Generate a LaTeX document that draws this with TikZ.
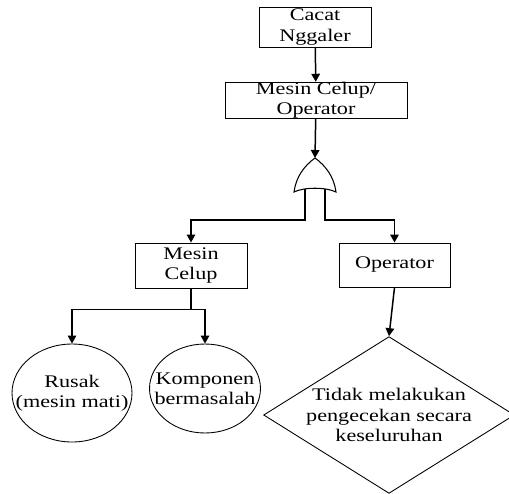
\documentclass[tikz,border=0pt]{standalone}
\usepackage{fontspec}
\setmainfont[FakeStretch=1.25]{Liberation Serif}
\usetikzlibrary{arrows.meta,positioning,calc,shapes.geometric}

\begin{document}
\begin{tikzpicture}[
      x=0.02cm,y=-0.02cm,
      font=\fontsize{10.1pt}{11.6pt}\selectfont,
      box/.style={draw,line width=0.55pt,inner sep=0pt,align=center},
      oval/.style={draw,ellipse,line width=0.5pt,inner xsep=-0.35cm,inner ysep=0pt,align=center},
      arrow/.style={-{Triangle[length=0.16cm,width=0.17cm]},line width=0.85pt}
    ]
      \useasboundingbox (0,0) rectangle (509,493);

      \node[box,minimum width=2.24cm,minimum height=0.8cm] (cacat) at (315,27) {Cacat\\Nggaler};
      \node[box,minimum width=3.64cm,minimum height=0.7cm] (mco) at (316,100.5) {Mesin Celup/\\Operator};

      % or gate
      \coordinate (gtop) at (315,158);
      \draw[line width=0.6pt] (294,192) .. controls (296,177) and (304,166) .. (gtop)
        .. controls (326,166) and (334,177) .. (336,192)
        .. controls (326,187) and (304,187) .. cycle;
      \coordinate (gin1) at (305,189);
      \coordinate (gin2) at (325,189);

      \node[box,minimum width=2.24cm,minimum height=0.9cm] (celup) at (191,265.5) {Mesin\\Celup};
      \node[box,minimum width=2.22cm,minimum height=0.88cm] (oper) at (394.5,265) {Operator};

      \node[oval,minimum width=2.4cm,minimum height=1.96cm] (rusak) at (72,393) {Rusak\\(mesin mati)};
      \node[oval,minimum width=2.22cm,minimum height=1.78cm] (kompo) at (205,388.5) {Komponen\\bermasalah};
      \node[draw,diamond,line width=0.5pt,inner sep=0pt,aspect=1.6,minimum width=4.76cm,minimum height=3cm,align=center]
        (cek) at (389,415) {Tidak melakukan\\pengecekan secara\\keseluruhan};

      \draw[arrow] (cacat) -- (mco);
      \draw[arrow] (mco) -- (gtop);
      \draw[arrow] (gin1) -- ++(0,31) -| (celup.north);
      \draw[arrow] (gin2) -- ++(0,31) -| (oper.north);
      \draw[line width=0.85pt] (celup.south) -- ++(0,21) coordinate (split);
      \draw[arrow] (split) -| (rusak.north);
      \draw[arrow] (split) -| (kompo.north);
      \draw[arrow] (oper.south) -- (cek.north);
    \end{tikzpicture}
\end{document}
